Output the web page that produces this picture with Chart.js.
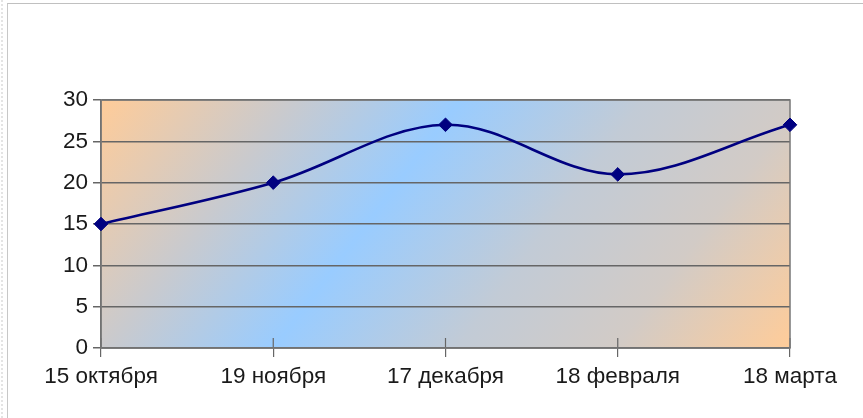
<!DOCTYPE html>
<html>
<head>
<meta charset="utf-8">
<script src="https://cdn.jsdelivr.net/npm/chart.js@4.4.0/dist/chart.umd.min.js"></script>
<style>
    html, body { margin: 0; padding: 0; background: #fff; }
    #wrap { position: relative; width: 863px; height: 418px; overflow: hidden; }
    #frame {
        position: absolute; left: 7px; top: 3px; right: -2px; bottom: -2px;
        border-left: 1px solid #c8c8c8; border-top: 1px solid #c0c0c0;
    }
    #dots { position: absolute; left: 1px; top: 0; bottom: 0; border-left: 2px dotted #e4e4e4; }
    canvas { position: absolute; left: 0; top: 0; }
</style>
</head>
<body>
<div id="wrap">
    <div id="dots"></div>
    <div id="frame"></div>
    <canvas id="chart" width="863" height="418"></canvas>
</div>
<script>
// chart data
const dates = ['15 октября', '19 ноября', '17 декабря', '18 февраля', '18 марта'];
const values = [15, 20, 27, 21, 27];
const yTicks = [0, 5, 10, 15, 20, 25, 30];

// diagonal orange-grey-blue fill behind the plot, frame and small inner ticks
const plotDecor = {
    id: 'plotDecor',
    beforeDraw(chart) {
        const { ctx, chartArea: a } = chart;
        const w = a.right - a.left, h = a.bottom - a.top;
        const dx = 0.80, dy = 0.60;
        const len = w * dx + h * dy;
        const g = ctx.createLinearGradient(a.left, a.top, a.left + dx * len, a.top + dy * len);
        g.addColorStop(0, '#ffcc99');
        g.addColorStop(0.22, '#c9cace');
        g.addColorStop(0.41, '#99ccff');
        g.addColorStop(0.62, '#c2cbd6');
        g.addColorStop(0.80, '#d2cbc6');
        g.addColorStop(1, '#ffcc99');
        ctx.save();
        ctx.fillStyle = g;
        ctx.fillRect(a.left, a.top, w, h);
        ctx.restore();
    },
    beforeDatasetsDraw(chart) {
        const { ctx, chartArea: a, scales } = chart;
        ctx.save();
        ctx.strokeStyle = '#666666';
        ctx.lineWidth = 1.2;
        scales.x.ticks.forEach((t, i) => {
            const x = scales.x.getPixelForTick(i);
            ctx.beginPath();
            ctx.moveTo(x, a.bottom);
            ctx.lineTo(x, a.bottom - 10);
            ctx.stroke();
        });
        ctx.strokeStyle = '#777777';
        ctx.lineWidth = 1.5;
        ctx.strokeRect(a.left, a.top, a.right - a.left, a.bottom - a.top);
        ctx.restore();
    }
};

const tickFont = { family: '"Liberation Sans", Arial, sans-serif', size: 22.5 };

new Chart(document.getElementById('chart'), {
    type: 'line',
    data: {
        labels: dates,
        datasets: [{
            data: values,
            borderColor: '#000080',
            borderWidth: 2.6,
            tension: 0.35,
            pointStyle: 'rectRot',
            pointRadius: 6.8,
            pointBackgroundColor: '#000080',
            pointBorderColor: '#000080',
            pointBorderWidth: 1,
            clip: false
        }]
    },
    options: {
        responsive: false,
        animation: false,
        devicePixelRatio: 1,
        layout: { padding: { left: 0, right: 73, top: 100, bottom: 0 } },
        plugins: { legend: { display: false }, tooltip: { enabled: false } },
        scales: {
            x: {
                offset: false,
                grid: { drawOnChartArea: false, color: '#666666', lineWidth: 1.2, tickLength: 9 },
                border: { display: true, color: '#666666', width: 1.5 },
                ticks: { color: '#1a1a1a', padding: 6, maxRotation: 0, autoSkip: false, font: tickFont },
                afterFit(s) { s.paddingLeft = 0; s.paddingRight = 0; s.height = 70; }
            },
            y: {
                min: 0, max: 30,
                afterBuildTicks(s) { s.ticks = yTicks.map(v => ({ value: v })); },
                grid: { color: '#666666', lineWidth: 1.5, tickLength: 8 },
                border: { display: true, color: '#666666', width: 1.5 },
                ticks: { color: '#1a1a1a', padding: 5, font: tickFont },
                afterFit(s) { s.width = 101; s.paddingTop = 0; s.paddingBottom = 0; }
            }
        }
    },
    plugins: [plotDecor]
});
</script>
</body>
</html>
